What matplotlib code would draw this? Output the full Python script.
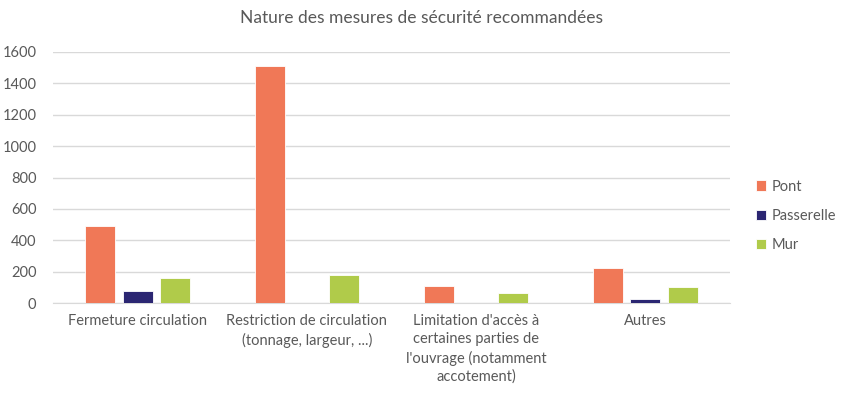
import matplotlib.pyplot as plt
import numpy as np

categories = [
    "Fermeture circulation",
    "Restriction de circulation\n(tonnage, largeur, ...)",
    "Limitation d'accès à\ncertaines parties de\nl'ouvrage (notamment\naccotement)",
    "Autres",
]
pont = [490, 1508, 110, 225]
passerelle = [76, 0, 0, 25]
mur = [160, 182, 64, 104]

series = [("Pont", pont, "#F07857"),
          ("Passerelle", passerelle, "#2B2672"),
          ("Mur", mur, "#B0CB4A")]

plt.rcParams['font.family'] = ['Lato', 'DejaVu Sans']
txt = "#595959"

fig = plt.figure(figsize=(8.42, 3.95), dpi=100)
ax = fig.add_axes([53 / 842, 1 - 303.3 / 395, 677 / 842, 251.6 / 395])

x = np.arange(len(categories))
w = 0.177
step = 0.22
for i, (name, vals, col) in enumerate(series):
    ax.bar(x + (i - 1) * step, vals, w, color=col, label=name,
           edgecolor="#FFFFFF", linewidth=0.6, zorder=3)

ax.set_xlim(-0.5, len(categories) - 0.5)
ax.set_ylim(0, 1600)
ax.set_yticks(range(0, 1601, 200))
ax.yaxis.grid(True, color="#D9D9D9", linewidth=1, zorder=0)
ax.set_xticks(x)
ax.set_xticklabels(categories, fontsize=10.5, color=txt, linespacing=1.35, va="top")
ax.tick_params(axis="y", labelsize=10.5, labelcolor=txt, length=0, pad=12)
ax.tick_params(axis="x", length=0, pad=8)
for s in ["top", "right", "left"]:
    ax.spines[s].set_visible(False)
ax.spines["bottom"].set_color("#D9D9D9")

fig.text(0.5, 1 - 18 / 395, "Nature des mesures de sécurité recommandées",
         ha="center", va="center", fontsize=12.5, color=txt)

fig.legend(loc="center left", bbox_to_anchor=(756 / 842, 1 - 216 / 395), frameon=False,
           fontsize=10.5, labelcolor=txt, handlelength=0.7, handleheight=0.7,
           handletextpad=0.4, labelspacing=1.05, borderpad=0, borderaxespad=0)

plt.savefig("out.png", dpi=100)
